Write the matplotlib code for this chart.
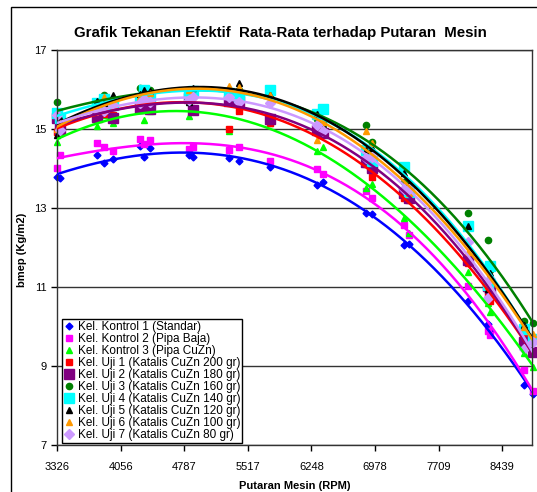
import numpy as np
import matplotlib
matplotlib.use('Agg')
import matplotlib.pyplot as plt
from matplotlib.patches import Rectangle

plt.rcParams['font.family'] = ['Liberation Sans', 'DejaVu Sans']

# putaran mesin (RPM), shared by every group
rpm = [3326, 3360, 3790, 3870, 3970, 4280, 4330, 4395, 4845, 4890, 5300, 5420,
       5770, 6310, 6380, 6875, 6945, 7310, 7370, 8050, 8270, 8300, 8690, 8790]

# bmep (Kg/m2) per group
kontrol_1 = [13.78, 13.76, 14.33, 14.14, 14.24, 14.57, 14.30, 14.51, 14.34, 14.29, 14.26, 14.18,
             14.04, 13.57, 13.65, 12.88, 12.84, 12.07, 12.10, 10.65, 10.06, 9.88, 8.52, 8.30]
kontrol_2 = [14.01, 14.34, 14.65, 14.54, 14.44, 14.75, 14.62, 14.72, 14.50, 14.55, 14.47, 14.54,
             14.19, 13.99, 13.86, 13.44, 13.26, 12.58, 12.31, 11.03, 9.89, 9.78, 8.90, 8.36]
kontrol_3 = [14.67, 14.90, 15.08, 15.35, 15.14, 15.48, 15.24, 15.45, 15.33, 15.53, 14.94, 15.56,
             15.15, 14.44, 14.54, 13.50, 13.62, 12.74, 12.36, 11.39, 10.59, 10.36, 9.32, 8.98]
uji_1 = [14.92, 15.05, 15.53, 15.39, 15.35, 15.73, 15.69, 15.60, 15.88, 15.83, 15.00, 15.46,
         15.16, 15.06, 14.88, 14.12, 13.79, 13.26, 13.19, 11.60, 10.83, 10.64, 9.74, 9.35]
uji_2 = [15.27, 15.00, 15.31, 15.57, 15.27, 15.52, 15.78, 15.50, 15.78, 15.48, 15.70, 15.71,
         15.26, 14.98, 14.90, 14.16, 14.01, 13.39, 13.26, 11.69, 11.02, 10.97, 9.60, 9.36]
uji_3 = [15.68, 15.17, 15.61, 15.87, 15.77, 16.03, 15.89, 16.00, 15.99, 15.94, 15.82, 16.00,
         15.85, 15.25, 15.12, 15.10, 14.68, 13.65, 13.60, 12.87, 12.20, 11.42, 10.15, 10.10]
uji_4 = [15.40, 15.29, 15.65, 15.77, 15.62, 15.79, 16.00, 15.81, 15.90, 15.95, 15.90, 15.82,
         15.98, 15.39, 15.51, 14.47, 14.20, 14.03, 13.41, 12.55, 11.05, 11.52, 9.93, 9.68]
uji_5 = [14.85, 15.29, 15.70, 15.66, 15.86, 15.88, 15.99, 15.95, 15.69, 16.04, 16.04, 16.16,
         15.87, 15.39, 15.11, 14.47, 14.51, 13.89, 13.57, 12.54, 10.94, 11.36, 10.04, 9.66]
uji_6 = [15.00, 15.14, 15.53, 15.80, 15.65, 15.82, 15.74, 15.90, 15.99, 15.84, 16.09, 16.06,
         15.87, 14.71, 15.18, 14.95, 14.64, 13.56, 13.39, 11.88, 11.02, 11.24, 10.00, 9.82]
uji_7 = [15.35, 14.98, 15.49, 15.45, 15.60, 15.65, 15.76, 15.68, 15.73, 15.81, 15.81, 15.68,
         15.66, 15.10, 14.96, 14.27, 14.28, 13.49, 13.47, 12.14, 10.72, 11.19, 9.44, 9.60]

labels = ['Kel. Kontrol 1 (Standar)', 'Kel. Kontrol 2 (Pipa Baja)', 'Kel. Kontrol 3 (Pipa CuZn)',
          'Kel. Uji 1 (Katalis CuZn 200 gr)', 'Kel. Uji 2 (Katalis CuZn 180 gr)',
          'Kel. Uji 3 (Katalis CuZn 160 gr)', 'Kel. Uji 4 (Katalis CuZn 140 gr)',
          'Kel. Uji 5 (Katalis CuZn 120 gr)', 'Kel. Uji 6 (Katalis CuZn 100 gr)',
          'Kel. Uji 7 (Katalis CuZn 80 gr)']
xtick_vals = [3326, 4056.4, 4786.9, 5517.3, 6247.7, 6978.1, 7708.6, 8439.0]
xtick_labels = ['3326', '4056', '4787', '5517', '6248', '6978', '7709', '8439']

series = [kontrol_1, kontrol_2, kontrol_3, uji_1, uji_2, uji_3, uji_4, uji_5, uji_6, uji_7]
colors = ['#0000FF', '#FF00FF', '#00FF00', '#FF0000', '#800080',
          '#008000', '#00FFFF', '#000000', '#FF9900', '#CC99FF']
markers = ['D', 's', '^', 's', 's', 'o', 's', '^', '^', 'D']
msizes = [3.5, 5, 5, 4.5, 7, 4.5, 7.5, 5, 5, 5]

fig = plt.figure(figsize=(5.37, 4.92), dpi=100)
ax = fig.add_axes([57/537, 47/492, 475/537, 395/492])

x = np.array(rpm, float)
xs = np.linspace(x.min(), x.max(), 300)
for ys, c, m, ms, lab in zip(series, colors, markers, msizes, labels):
    ax.plot(x, ys, linestyle='none', marker=m, ms=ms, color=c, mec=c,
            label=lab, zorder=2, clip_on=False)
    # polynomial trendline like excel
    p = np.polynomial.Polynomial.fit(x, ys, 3)
    ax.plot(xs, p(xs), color=c, lw=1.8, zorder=3)

ax.set_xlim(3326, 8780)
ax.set_ylim(7, 17)
ax.set_yticks([7, 9, 11, 13, 15, 17])
ax.set_xticks(xtick_vals)
ax.set_xticklabels(xtick_labels)
ax.tick_params(labelsize=8, length=4, width=1, color='black', direction='out')
ax.tick_params(axis='x', pad=8)
ax.yaxis.grid(True, color='#333333', lw=1)
ax.set_axisbelow(True)
for s in ax.spines.values():
    s.set_color('#333333')
    s.set_linewidth(1)

leg = ax.legend(loc='lower left', bbox_to_anchor=(0.01, 0.005), borderaxespad=0,
                fontsize=8.5, labelspacing=0.0, handletextpad=0.2, handlelength=1,
                borderpad=0.15, fancybox=False, edgecolor='black', framealpha=1)
leg.get_frame().set_linewidth(1)
leg.set_zorder(5)

fig.text(280/537, 1 - 33/492, 'Grafik Tekanan Efektif  Rata-Rata terhadap Putaran  Mesin',
         ha='center', va='center', fontsize=10.8, fontweight='bold')
fig.text(295/537, 1 - 486/492, 'Putaran Mesin (RPM)', ha='center', va='center',
         fontsize=8, fontweight='bold')
fig.text(22/537, 1 - 250/492, 'bmep (Kg/m2)', ha='center', va='center', rotation=90,
         fontsize=8, fontweight='bold')

# chart border (cut off at right and bottom)
fig.patches.append(Rectangle((11/537, -0.05), 1.05, 1 - 7/492 + 0.05, transform=fig.transFigure,
                             fill=False, edgecolor='black', lw=1))

fig.savefig('out.png', dpi=100)
